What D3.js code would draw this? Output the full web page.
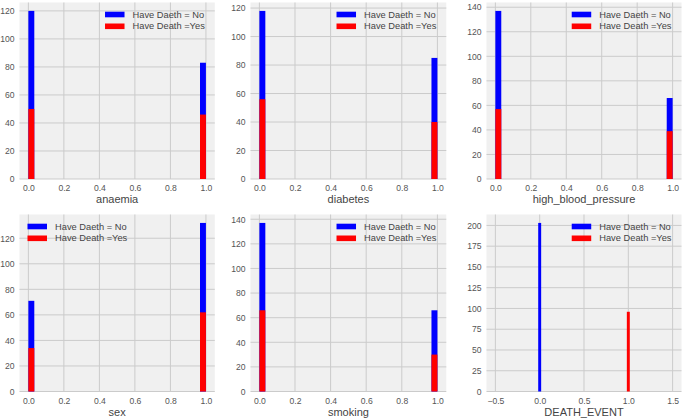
<!DOCTYPE html>
<html><head><meta charset="utf-8">
<script src="https://cdn.jsdelivr.net/npm/d3@7"></script>
<style>body{margin:0;background:#fff}svg{display:block}</style>
</head><body>
<svg id="chart" width="685" height="418"></svg>
<script>
// ---- data ----
const variables   = ["anaemia","diabetes","high_blood_pressure","sex","smoking","DEATH_EVENT"];
const noDeathAt0  = [120,118,137, 71,137,203];
const noDeathAt1  = [ 83, 85, 66,132, 66,  0];
const deathAt0    = [ 50, 56, 57, 34, 66,  0];
const deathAt1    = [ 46, 40, 39, 62, 30, 96];
const yTickStep   = [ 20, 20, 20, 20, 20, 25];
const xTickValues = [
  [0,0.2,0.4,0.6,0.8,1.0],[0,0.2,0.4,0.6,0.8,1.0],[0,0.2,0.4,0.6,0.8,1.0],
  [0,0.2,0.4,0.6,0.8,1.0],[0,0.2,0.4,0.6,0.8,1.0],[-0.5,0,0.5,1.0,1.5]
];
const legendLabels = ["Have Daeth = No","Have Death =Yes"];
const legendLoc    = ["right","right","right","left","right","right"];
const nBins = 30;

// ---- layout ----
const cols = [[19.5,214.8],[250.5,446.3],[486.5,681.5]];
const rows = [[2.5,179],[214.5,391.5]];
const svg = d3.select("#chart");
svg.append("rect").attr("width",685).attr("height",418).attr("fill","#fff");
const FONT = "'Liberation Sans', Arial, sans-serif";

variables.forEach((v,i)=>{
  const [x0,x1] = cols[i%3], [y0,y1] = rows[Math.floor(i/3)];
  const isDeath = v==="DEATH_EVENT";
  // bins: binary vars share range [0,1]; DEATH_EVENT each series centred on its own value
  let bars;
  if(!isDeath){
    const w = 1/nBins;
    bars = [
      {s:"no", a:0, b:w, c:noDeathAt0[i]}, {s:"no", a:1-w, b:1, c:noDeathAt1[i]},
      {s:"yes",a:0, b:w, c:deathAt0[i]},   {s:"yes",a:1-w, b:1, c:deathAt1[i]}
    ];
  } else {
    const w = 1/nBins;
    bars = [
      {s:"no", a:-w/2, b:w/2, c:noDeathAt0[i]},
      {s:"yes",a:1-w/2, b:1+w/2, c:deathAt1[i]}
    ];
  }
  const xmin = isDeath ? -0.5 : 0, xmax = isDeath ? 1.5 : 1;
  const pad = (xmax-xmin)*0.05;
  const x = d3.scaleLinear().domain([xmin-pad,xmax+pad]).range([x0,x1]);
  const ymax = d3.max(bars,d=>d.c)*1.05;
  const y = d3.scaleLinear().domain([0,ymax]).range([y1,y0]);
  const yTicks = d3.range(0, ymax+1e-9, yTickStep[i]);

  const g = svg.append("g");
  g.append("rect").attr("x",x0).attr("y",y0).attr("width",x1-x0).attr("height",y1-y0).attr("fill","#f0f0f0");
  // grid
  g.selectAll(".vg").data(xTickValues[i]).join("line")
    .attr("x1",d=>x(d)).attr("x2",d=>x(d)).attr("y1",y0).attr("y2",y1)
    .attr("stroke","#cbcbcb").attr("stroke-width",1);
  g.selectAll(".hg").data(yTicks).join("line")
    .attr("x1",x0).attr("x2",x1).attr("y1",d=>y(d)).attr("y2",d=>y(d))
    .attr("stroke","#cbcbcb").attr("stroke-width",1);
  // axes via d3 axis
  const xa = g.append("g").attr("transform",`translate(0,${y1})`)
    .call(d3.axisBottom(x).tickValues(xTickValues[i]).tickFormat(d3.format(".1f")).tickSize(0).tickPadding(6));
  const ya = g.append("g").attr("transform",`translate(${x0},0)`)
    .call(d3.axisLeft(y).tickValues(yTicks).tickFormat(d3.format("d")).tickSize(0).tickPadding(5));
  [xa,ya].forEach(a=>{
    a.select(".domain").remove();
    a.selectAll("text").attr("font-family",FONT).attr("font-size",8.6).attr("fill","#555");
  });
  // bars: blue first, red on top
  g.selectAll(".bar").data(bars.filter(d=>d.c>0)).join("rect")
    .attr("x",d=>x(d.a)).attr("width",d=>x(d.b)-x(d.a))
    .attr("y",d=>y(d.c)).attr("height",d=>y1-y(d.c))
    .attr("fill",d=>d.s==="no"?"#0000ff":"#ff0000");
  // x label
  g.append("text").attr("x",(x0+x1)/2).attr("y",y1+24).attr("text-anchor","middle")
    .attr("font-family",FONT).attr("font-size",11).attr("fill","#444").text(v);
  // legend
  const fs = 9.3;
  const lg = g.append("g");
  const texts = legendLabels.map((t,k)=>lg.append("text").attr("font-family",FONT).attr("font-size",fs)
    .attr("fill","#444").attr("dominant-baseline","central").text(t));
  const maxW = d3.max(texts,t=>t.node().getComputedTextLength());
  const textX = legendLoc[i]==="right" ? x1-10-maxW : x0+35.5;
  texts.forEach((t,k)=>{
    const cy = y0+12+k*11.8;
    t.attr("x",textX).attr("y",cy);
    lg.append("rect").attr("x",textX-27.5).attr("y",cy-2.8).attr("width",19.5).attr("height",5.6)
      .attr("fill",k===0?"#0000ff":"#ff0000");
  });
});
</script>
</body></html>
